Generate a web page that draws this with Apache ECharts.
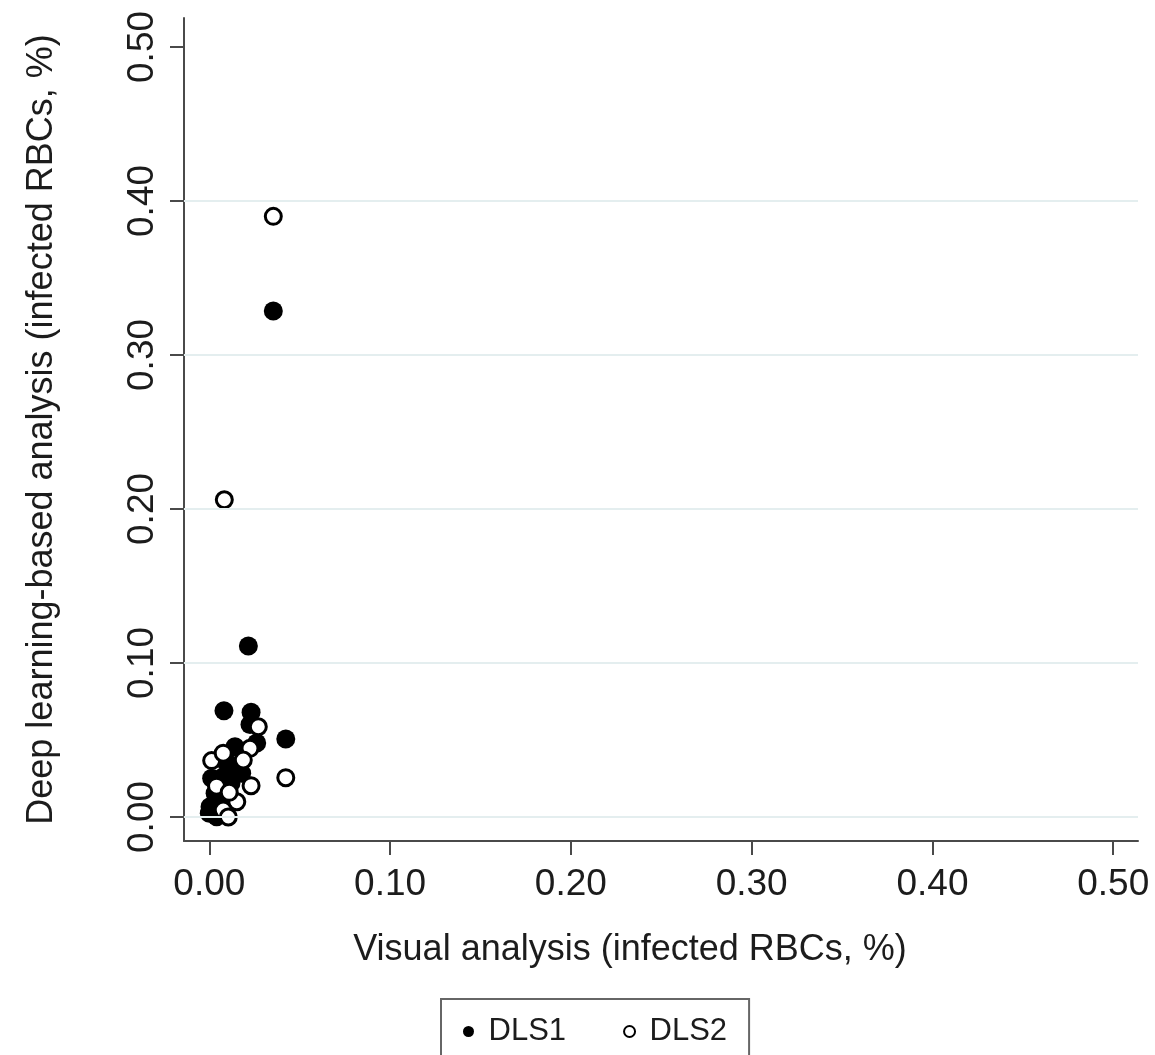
<!DOCTYPE html>
<html>
<head>
<meta charset="utf-8">
<script src="https://cdn.jsdelivr.net/npm/echarts@6/dist/echarts.min.js"></script>
<style>
html,body{margin:0;padding:0;background:#fff;}
#chart{width:1155px;height:1055px;}
</style>
</head>
<body>
<div id="chart"></div>
<script>
// Tick values (both axes)
const tickValues = [0, 0.1, 0.2, 0.3, 0.4, 0.5];
const gridValues = [0, 0.1, 0.2, 0.3, 0.4];

// DLS1 (filled markers): [visual %, deep learning %]
const dls1 = [
  [0.0354, 0.3286], [0.0216, 0.111], [0.0081, 0.069], [0.0231, 0.068],
  [0.0225, 0.060], [0.0262, 0.048], [0.0423, 0.0506], [0.0142, 0.0456],
  [0.0133, 0.0327], [0.0013, 0.0251], [0.0077, 0.0262], [0.0179, 0.0284],
  [0.0096, 0.0197], [0.0032, 0.0154], [0.0114, 0.0132], [0.0004, 0.0067],
  [0.0000, 0.0024], [0.0041, 0.0002], [0.0060, 0.0380], [0.0100, 0.0350],
  [0.0050, 0.0100], [0.0080, 0.0050], [0.0120, 0.0220], [0.0160, 0.0290],
  [0.0030, 0.0050]
];

// DLS2 (hollow markers)
const dls2 = [
  [0.0354, 0.390], [0.0083, 0.206], [0.0271, 0.0586], [0.0423, 0.0255],
  [0.0225, 0.0446], [0.0013, 0.0366], [0.0077, 0.0414], [0.0188, 0.037],
  [0.0231, 0.0203], [0.0152, 0.0099], [0.0077, 0.0045], [0.0105, 0.0000],
  [0.0040, 0.0200], [0.0110, 0.0160]
];

const xTitle = 'Visual analysis (infected RBCs, %)';
const yTitle = 'Deep learning-based analysis (infected RBCs, %)';

const FONT = '"Liberation Sans", Arial, Helvetica, sans-serif';
const TXT = '#1c1c1c';

const chart = echarts.init(document.getElementById('chart'), null, {renderer: 'canvas'});

const axisCommon = {
  type: 'value',
  axisLine: {show: true, onZero: false, lineStyle: {color: '#4a4a4a', width: 2}},
  axisTick: {show: true, customValues: tickValues, length: 14, lineStyle: {color: '#4a4a4a', width: 2}},
  splitLine: {show: false},
  nameLocation: 'middle',
  nameTextStyle: {fontFamily: FONT, fontSize: 36, color: TXT}
};

chart.setOption({
  animation: false,
  backgroundColor: '#ffffff',
  grid: {left: 184, right: 17, top: 18, bottom: 214, containLabel: false},
  xAxis: Object.assign({}, axisCommon, {
    min: -0.014, max: 0.5137,
    name: xTitle, nameGap: 91,
    nameTextStyle: {fontFamily: FONT, fontSize: 36, color: TXT, padding: [0, 62, 0, 0]},
    axisLabel: {customValues: tickValues, fontFamily: FONT, fontSize: 37, color: TXT, margin: 25,
      formatter: v => Number(v).toFixed(2)}
  }),
  yAxis: Object.assign({}, axisCommon, {
    min: -0.0156, max: 0.5188,
    name: yTitle, nameGap: 124,
    axisLabel: {customValues: tickValues, fontFamily: FONT, fontSize: 37, color: TXT, margin: 23, rotate: 90,
      formatter: v => Number(v).toFixed(2)}
  }),
  legend: {
    data: [
      {name: 'DLS1', icon: 'circle', itemStyle: {color: '#000', borderWidth: 0}},
      {name: 'DLS2', icon: 'circle', itemStyle: {color: '#fff', borderColor: '#000', borderWidth: 2}}
    ],
    left: 441, top: 999,
    orient: 'horizontal',
    itemWidth: 30, itemHeight: 11, itemGap: 57,
    padding: [17, 22, 40, 22],
    borderColor: '#666', borderWidth: 2,
    textStyle: {fontFamily: FONT, fontSize: 31, color: TXT}
  },
  series: [
    {
      name: 'grid', type: 'scatter', data: [], z: 0, silent: true,
      markLine: {
        silent: true, symbol: 'none', animation: false,
        label: {show: false},
        lineStyle: {color: '#e4eeef', width: 2, type: 'solid'},
        data: gridValues.map(v => ({yAxis: v}))
      }
    },
    {
      name: 'DLS1', type: 'scatter', data: dls1, symbol: 'circle', symbolSize: 19, z: 3,
      itemStyle: {color: '#000', opacity: 1}
    },
    {
      name: 'DLS2', type: 'scatter', data: dls2, symbol: 'circle', symbolSize: 16, z: 4,
      itemStyle: {color: '#fff', borderColor: '#000', borderWidth: 3, opacity: 1}
    }
  ]
});
</script>
</body>
</html>
